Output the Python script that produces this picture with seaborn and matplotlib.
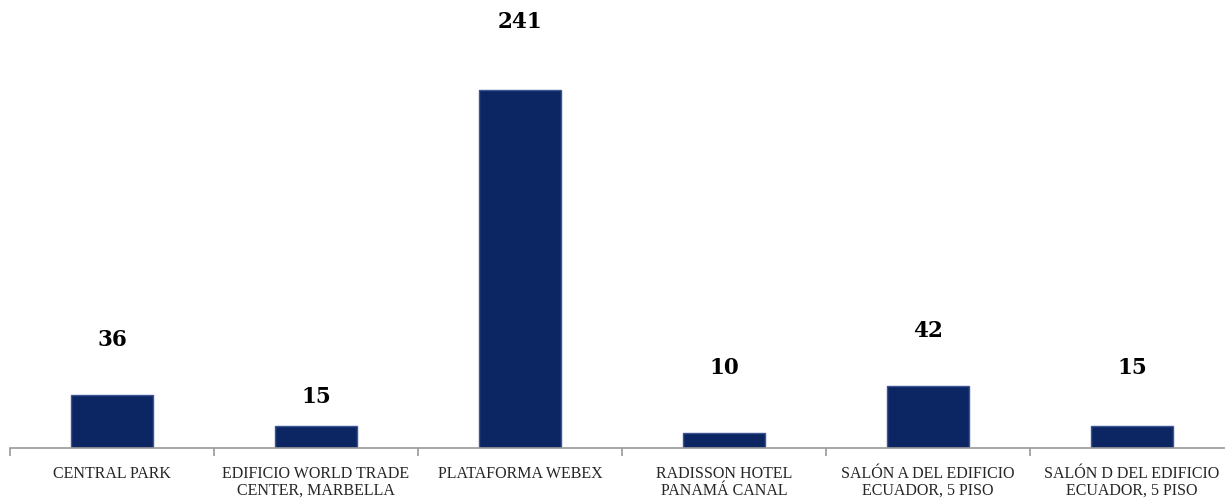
import matplotlib
matplotlib.use("Agg")
import matplotlib.pyplot as plt
import seaborn as sns
import numpy as np
import pandas as pd

# datos del grafico
sedes = ["CENTRAL PARK", "EDIFICIO WORLD TRADE\nCENTER, MARBELLA", "PLATAFORMA WEBEX",
         "RADISSON HOTEL\nPANAMÁ CANAL", "SALÓN A DEL EDIFICIO\nECUADOR, 5 PISO",
         "SALÓN D DEL EDIFICIO\nECUADOR, 5 PISO"]
cantidad = [36, 15, 241, 10, 42, 15]
# altura de las etiquetas (en unidades del eje y)
altura_etiqueta = [73, 34, 287, 54, 79, 54]

df = pd.DataFrame({"sede": sedes, "cantidad": cantidad})

sns.set_style("white")
plt.rcParams['font.family'] = ['Liberation Serif', 'DejaVu Serif']

fig = plt.figure(figsize=(12.25, 4.99), dpi=100)
ax = fig.add_axes([10/1225, 1 - 448/499, 1224/1225, 448/499])

sns.barplot(data=df, x="sede", y="cantidad", color="#0c2664", width=0.4,
            edgecolor="#3d5592", linewidth=1.0, saturation=1, ax=ax)

for i, (v, h) in enumerate(zip(cantidad, altura_etiqueta)):
    ax.text(i, h, str(v), ha="center", va="center", fontsize=15.5,
            fontweight="bold", family="DejaVu Serif", color="black")

ax.set_xlim(-0.5, len(sedes) - 0.5)
ax.set_ylim(0, 301.5)
ax.set_xlabel("")
ax.set_ylabel("")
ax.set_yticks([])
for s in ["top", "right", "left"]:
    ax.spines[s].set_visible(False)
ax.spines["bottom"].set_color("#9a9a9a")
ax.spines["bottom"].set_linewidth(1.2)

ax.set_xticks(np.arange(len(sedes)))
ax.set_xticklabels(sedes, fontsize=11.5, linespacing=1.05)
ax.set_xticks(np.arange(len(sedes) + 1) - 0.5, minor=True)
ax.tick_params(axis="x", which="major", length=0, pad=13, bottom=True)
ax.tick_params(axis="x", which="minor", length=6, color="#9a9a9a", width=1.2,
               direction="out", bottom=True)

fig.savefig("out.png", dpi=100)
